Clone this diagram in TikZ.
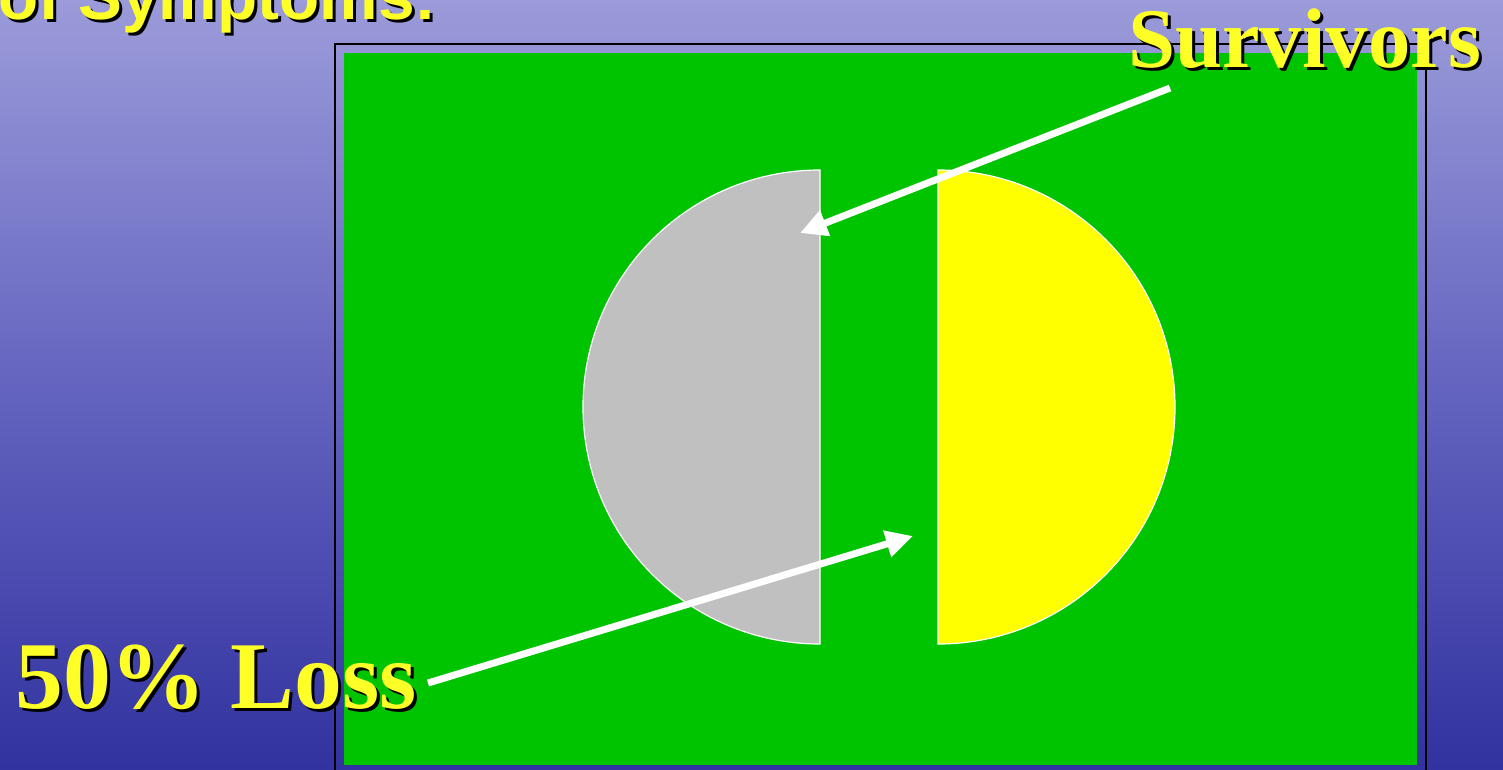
\documentclass[tikz,border=0pt]{standalone}
\usepackage{fontspec}
\setmainfont{Liberation Serif}
\newfontfamily\titlefont{Liberation Sans}
\usetikzlibrary{arrows.meta}
\definecolor{bgtop}{RGB}{155,155,218}
\definecolor{bgmid}{RGB}{100,100,192}
\definecolor{bgbot}{RGB}{50,50,160}
\definecolor{panelgreen}{RGB}{0,196,0}
\definecolor{halfgrey}{RGB}{192,192,192}
\definecolor{halfyellow}{RGB}{255,255,0}
\definecolor{labelyellow}{RGB}{255,255,40}
\tikzset{
  lbl/.style={font=\bfseries\fontsize{#1}{#1}\selectfont, text=labelyellow, inner sep=0pt},
  shadowlbl/.style={font=\bfseries\fontsize{#1}{#1}\selectfont, text=black, inner sep=0pt},
  halfdisk/.style={draw=white, line width=1.2bp},
  pointer/.style={draw=white, line width=7bp, -{Triangle[length=27bp,width=26bp]}}
}
\begin{document}
\begin{tikzpicture}[x=1bp,y=-1bp]
\useasboundingbox (0,0) rectangle (1503,769);
\clip (0,0) rectangle (1503,769);
% background
\shade[top color=bgtop, bottom color=bgbot, middle color=bgmid] (0,0) rectangle (1503,769);
% title remnant
\node[shadowlbl=66, font=\titlefont\bfseries\fontsize{66}{66}\selectfont, anchor=base west] at (1,23) {of Symptoms:};
\node[lbl=66, font=\titlefont\bfseries\fontsize{66}{66}\selectfont, anchor=base west] (title) at (-2,20) {of Symptoms:};
% panel
\draw[black, line width=2bp] (335,44) rectangle (1426,790);
\fill[panelgreen] (344,53) rectangle (1417,765);
% half disks
\path[halfdisk, fill=halfgrey] (820,170) arc[start angle=-90, end angle=-270, radius=237] -- cycle;
\path[halfdisk, fill=halfyellow] (938,170) arc[start angle=-90, end angle=90, radius=237] -- cycle;
\coordinate (greytip) at (800,233);
\coordinate (gaptip) at (913,536);
% labels
\node[shadowlbl=85, anchor=base west] at (1131,71) {Survivors};
\node[lbl=85, anchor=base west] (surv) at (1128,68) {Survivors};
\node[shadowlbl=96, anchor=base west] at (18,711) {50\% Loss};
\node[lbl=96, anchor=base west] (loss) at (15,708) {50\% Loss};
% arrows
\draw[pointer] (1170,88) -- (greytip);
\draw[pointer] (428,683) -- (gaptip);
\end{tikzpicture}
\end{document}
